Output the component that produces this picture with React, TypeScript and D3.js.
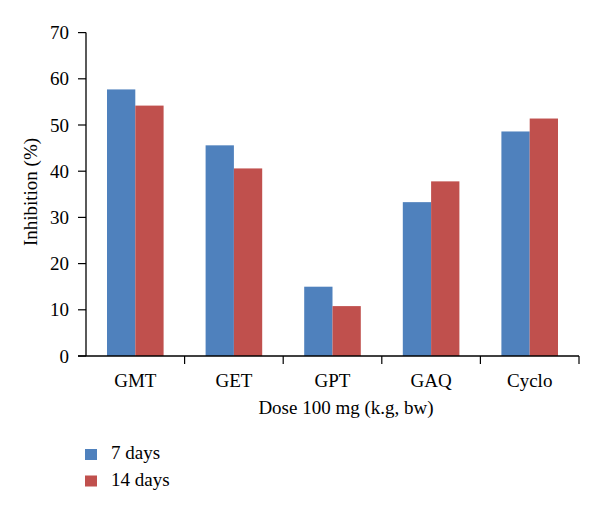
import React from "react";
import * as d3 from "d3";

const categories = ["GMT", "GET", "GPT", "GAQ", "Cyclo"];
const seriesNames = ["7 days", "14 days"];
const days7 = [57.7, 45.6, 15.0, 33.3, 48.6];
const days14 = [54.2, 40.6, 10.8, 37.8, 51.4];
const yTicks = [0, 10, 20, 30, 40, 50, 60, 70];
const colors = ["#4F81BD", "#C0504D"];

const W = 600;
const H = 513;
const left = 86;
const right = 579;
const top = 32.6;
const bottom = 356;
const font = "'Liberation Serif', 'DejaVu Serif', serif";

export default function App() {
  const x = d3.scaleBand<string>().domain(categories).range([left, right]).paddingInner(0).paddingOuter(0);
  const y = d3.scaleLinear().domain([0, 70]).range([bottom, top]);
  const bw = x.bandwidth();
  const barW = bw * 0.287;
  const sub = d3.scaleBand<number>().domain([0, 1]).range([bw / 2 - barW, bw / 2 + barW]);
  const series = [days7, days14];

  return (
    <svg width={W} height={H} style={{ position: "absolute", left: 0, top: 0, background: "#fff" }}>
      {series.map((vals, si) =>
        vals.map((v, i) => (
          <rect
            key={`${si}-${i}`}
            x={(x(categories[i]) as number) + (sub(si) as number)}
            y={y(v)}
            width={sub.bandwidth()}
            height={y(0) - y(v)}
            fill={colors[si]}
          />
        ))
      )}
      {/* y axis */}
      <line x1={left} x2={left} y1={y(70)} y2={y(0)} stroke="#000" strokeWidth={1.3} />
      {yTicks.map((t) => (
        <g key={t}>
          <line x1={left - 8} x2={left} y1={y(t)} y2={y(t)} stroke="#000" strokeWidth={1.2} />
          <text x={left - 17} y={y(t)} dy="0.35em" textAnchor="end" fontFamily={font} fontSize={19} fill="#000">
            {t}
          </text>
        </g>
      ))}
      {/* x axis */}
      <line x1={left - 8} x2={right} y1={y(0)} y2={y(0)} stroke="#000" strokeWidth={1.3} />
      {categories.map((c) => (
        <g key={c}>
          <line
            x1={(x(c) as number) + bw}
            x2={(x(c) as number) + bw}
            y1={y(0)}
            y2={y(0) + 8}
            stroke="#000"
            strokeWidth={1.2}
          />
          <text x={(x(c) as number) + bw / 2} y={387} textAnchor="middle" fontFamily={font} fontSize={19} fill="#000">
            {c}
          </text>
        </g>
      ))}
      <text x={346} y={413.5} textAnchor="middle" fontFamily={font} fontSize={19} fill="#000">
        Dose 100 mg (k.g, bw)
      </text>
      <text
        transform={`translate(37, 192) rotate(-90)`}
        textAnchor="middle"
        fontFamily={font}
        fontSize={19}
        fill="#000"
      >
        Inhibition (%)
      </text>
      {seriesNames.map((s, i) => (
        <g key={s}>
          <rect x={85} y={449 + i * 26.5} width={12} height={11} fill={colors[i]} />
          <text x={111} y={459 + i * 26.5} fontFamily={font} fontSize={19} fill="#000">
            {s}
          </text>
        </g>
      ))}
    </svg>
  );
}
